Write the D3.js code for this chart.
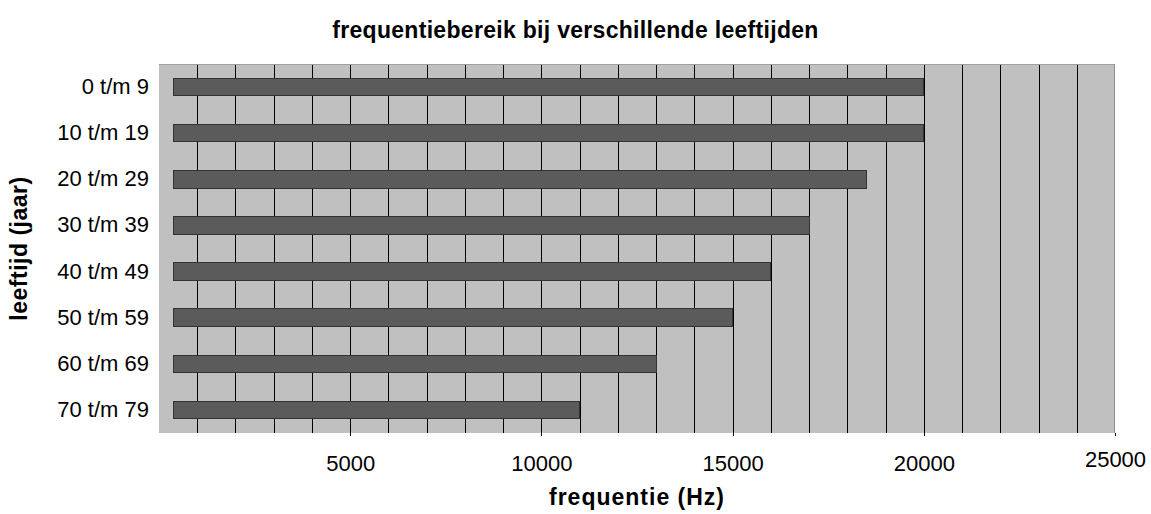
<!DOCTYPE html>
<html>
<head>
<meta charset="utf-8">
<script src="https://cdn.jsdelivr.net/npm/d3@7"></script>
<style>
  html, body { margin: 0; padding: 0; background: #fff; }
  svg { display: block; font-family: Arial, "Liberation Sans", Helvetica, sans-serif; }
</style>
</head>
<body>
<div id="chart"></div>
<script>
// leeftijdsgroepen en bovengrens van het gehoor (Hz)
const leeftijden = ['0 t/m 9', '10 t/m 19', '20 t/m 29', '30 t/m 39', '40 t/m 49', '50 t/m 59', '60 t/m 69', '70 t/m 79'];
const ondergrens = [370, 370, 370, 370, 370, 370, 370, 370];
const bovengrens = [20000, 20000, 18500, 17000, 16000, 15000, 13000, 11000];
const xTicks = [5000, 10000, 15000, 20000, 25000];
const xMax = 25000;
const gridStep = 1000;

const width = 1151, height = 514;
const margin = { top: 64, right: 36, bottom: 81, left: 159 };
const w = width - margin.left - margin.right;
const h = height - margin.top - margin.bottom;

const rows = leeftijden.map((l, i) => ({ label: l, lo: ondergrens[i], hi: bovengrens[i] }));

const svg = d3.select('#chart')
    .append('svg')
    .attr('width', width)
    .attr('height', height);

const x = d3.scaleLinear().domain([0, xMax]).range([0, w]);
const y = d3.scaleBand().domain(leeftijden).range([0, h]).paddingInner(0.62).paddingOuter(0.31);

const g = svg.append('g').attr('transform', `translate(${margin.left},${margin.top})`);

// plot background
g.append('rect')
    .attr('width', w)
    .attr('height', h)
    .attr('fill', '#c0c0c0');

// vertical gridlines every 1000 Hz
const grid = g.append('g')
    .attr('transform', `translate(0,${h})`)
    .call(d3.axisBottom(x).tickValues(d3.range(gridStep, xMax, gridStep)).tickSize(-h).tickFormat(''));
grid.select('.domain').remove();
grid.selectAll('line').attr('stroke', '#000').attr('shape-rendering', 'crispEdges');

// top + right border
g.append('line')
    .attr('x1', 0).attr('x2', w).attr('y1', 0.5).attr('y2', 0.5)
    .attr('stroke', '#a0a0a0');
g.append('line')
    .attr('x1', w - 0.5).attr('x2', w - 0.5).attr('y1', 0).attr('y2', h)
    .attr('stroke', '#909090');

// bars
g.append('g')
    .selectAll('rect')
    .data(rows)
    .join('rect')
    .attr('x', d => x(d.lo))
    .attr('y', d => y(d.label))
    .attr('width', d => x(d.hi) - x(d.lo))
    .attr('height', y.bandwidth())
    .attr('fill', '#5b5b5b')
    .attr('stroke', '#333')
    .attr('stroke-width', 1)
    .attr('shape-rendering', 'crispEdges');

// x axis labels + major ticks
const xAxis = g.append('g')
    .attr('transform', `translate(0,${h})`)
    .call(d3.axisBottom(x).tickValues(xTicks).tickSize(3).tickPadding(19).tickFormat(d3.format('d')));
xAxis.select('.domain').remove();
xAxis.selectAll('line').attr('stroke', '#000').attr('shape-rendering', 'crispEdges');
xAxis.selectAll('text')
    .attr('font-size', '22px')
    .attr('fill', '#000')
    .attr('font-family', 'Arial, "Liberation Sans", sans-serif')
    .attr('y', d => d === xMax ? 18 : 22); // laatste label staat iets hoger

// y axis labels
const yAxis = g.append('g')
    .call(d3.axisLeft(y).tickSize(0).tickPadding(10));
yAxis.select('.domain').remove();
yAxis.selectAll('text').attr('font-size', '22px').attr('fill', '#000').attr('font-family', 'Arial, "Liberation Sans", sans-serif');

// titles
svg.append('text')
    .attr('x', width / 2)
    .attr('y', 38)
    .attr('text-anchor', 'middle')
    .attr('font-size', '23px')
    .attr('font-weight', 'bold')
    .attr('letter-spacing', '0.3px')
    .text('frequentiebereik bij verschillende leeftijden');

svg.append('text')
    .attr('x', margin.left + w / 2)
    .attr('y', 505)
    .attr('text-anchor', 'middle')
    .attr('font-size', '23px')
    .attr('font-weight', 'bold')
    .attr('letter-spacing', '1px')
    .text('frequentie (Hz)');

svg.append('text')
    .attr('transform', `translate(27,${margin.top + h / 2}) rotate(-90)`)
    .attr('text-anchor', 'middle')
    .attr('font-size', '23px')
    .attr('font-weight', 'bold')
    .attr('letter-spacing', '0.5px')
    .text('leeftijd (jaar)');
</script>
</body>
</html>
